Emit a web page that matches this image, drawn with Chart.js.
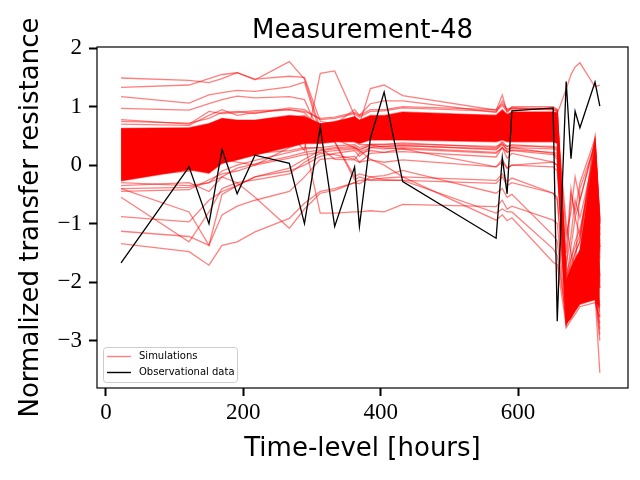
<!DOCTYPE html>
<html>
<head>
<meta charset="utf-8">
<script src="https://cdn.jsdelivr.net/npm/chart.js@4.4.1/dist/chart.umd.min.js"></script>
<style>
  html, body { margin: 0; padding: 0; background: #fff; }
</style>
</head>
<body>
<canvas id="chart" width="640" height="480"></canvas>
<script>
// time levels shared by every run
const hours = [22, 121, 150, 169, 191, 217, 267, 289, 312, 333, 362, 369, 385, 405, 432, 568, 577, 584, 591, 651, 657, 670, 677, 683, 690, 712, 719];

const observed = [-1.67, -0.03, -1.00, 0.27, -0.49, 0.17, 0.03, -1.00, 0.65, -1.05, -0.03, -1.05, 0.46, 1.25, -0.28, -1.25, 0.13, -0.49, 0.93, 0.98, -2.67, 1.43, 0.11, 0.92, 0.64, 1.42, 1.01];

// edges of the dense bundle of simulations
const bandUpper = [0.63, 0.64, 0.71, 0.80, 0.77, 0.77, 0.85, 0.83, 0.71, 0.74, 0.83, 0.77, 0.85, 0.85, 0.91, 0.85, 0.94, 0.87, 0.91, 0.91, 0.90, -1.95, -1.75, -1.60, -1.45, 0.35, -1.10];
const bandLower = [-0.27, -0.08, -0.14, 0.03, 0.09, 0.17, 0.31, 0.37, 0.37, 0.40, 0.40, 0.37, 0.43, 0.43, 0.43, 0.40, 0.43, 0.40, 0.40, 0.40, 0.37, -2.72, -2.62, -2.50, -2.38, -2.30, -2.45];

// single runs that stand out of the bundle
const simRuns = [
  [1.49, 1.45, 1.41, 1.48, 1.58, 1.47, 1.52, 1.50, 0.75, 0.70, 0.72, 0.65, 0.72, 0.70, 0.75, 0.70, 0.80, 0.72, 0.75, 0.72, 0.70, -2.30, -2.10, -1.90, -1.70, -0.20, -1.60],
  [1.33, 1.37, 1.48, 1.55, 1.58, 1.46, 1.77, 1.47, 0.62, 0.66, 0.70, 0.60, 0.70, 0.68, 0.72, 0.68, 0.78, 0.70, 0.72, 0.70, 0.68, -2.40, -2.30, -2.10, -1.90, -0.60, -1.90],
  [1.17, 1.06, 1.20, 1.24, 1.28, 1.26, 1.34, 1.42, 0.55, 0.60, 0.65, 0.55, 0.65, 0.62, 0.68, 0.62, 0.70, 0.62, 0.66, 0.62, 0.60, -2.20, -1.60, -1.30, -1.10, 0.10, -1.30],
  [0.97, 0.94, 1.05, 1.12, 1.18, 1.15, 1.17, 1.12, 0.52, 0.58, 0.62, 0.52, 0.62, 0.60, 0.65, 0.60, 0.68, 0.60, 0.64, 0.60, 0.58, -2.45, -2.25, -2.05, -1.95, -1.20, -2.10],
  [0.78, 0.70, 0.92, 0.88, 0.90, 0.93, 0.95, 0.90, 0.60, 0.64, 0.70, 0.62, 0.70, 0.70, 0.74, 0.68, 0.76, 0.68, 0.72, 0.70, 0.66, -2.15, -1.95, -1.85, -1.65, 0.05, -1.45],
  [0.40, 0.35, 0.45, 0.50, 0.48, 0.50, 0.55, 0.25, 1.57, 1.61, 0.85, 0.60, 0.75, 0.78, 0.80, 0.75, 0.85, 0.78, 0.80, 0.76, 0.74, -2.10, -1.90, -1.70, -1.50, 0.20, -1.40],
  [0.50, 0.55, 0.60, 0.70, 0.65, 0.70, 0.75, 0.80, 0.70, 0.75, 0.80, 0.70, 1.31, 1.37, 1.19, 0.94, 1.20, 0.90, 1.00, 1.00, 0.95, -2.00, -1.40, -0.90, -0.60, 0.40, -1.10],
  [0.45, 0.50, 0.60, 0.65, 0.70, 0.72, 0.80, 0.85, 0.65, 0.70, 0.95, 0.85, 1.05, 1.10, 1.10, 0.90, 1.10, 0.95, 0.98, 0.95, 0.92, -1.80, -0.50, -0.80, -0.30, 0.45, -0.90],
  [0.40, 0.45, 0.55, 0.60, 0.62, 0.65, 0.70, 0.75, 0.60, 0.65, 0.75, 0.70, 0.80, 0.82, 0.88, 0.85, 0.95, 0.85, 0.90, 0.90, 0.88, 1.30, 1.55, 1.68, 1.75, 1.34, 1.37],
  [-1.34, -1.48, -1.71, -1.37, -1.31, -1.14, -0.91, -0.65, -0.45, -0.40, -0.30, -0.32, -0.20, -0.25, -0.26, -0.31, -0.20, -0.35, -0.30, -0.48, -0.55, -2.55, -2.35, -2.25, -2.15, -1.90, -2.40],
  [-1.13, -1.22, -1.37, -0.85, -0.70, -0.60, -0.45, -0.20, 0.10, 0.12, 0.15, 0.05, 0.20, 0.22, 0.23, 0.14, 0.30, 0.12, 0.20, 0.05, 0.00, -2.45, -2.50, -2.40, -2.20, -0.30, -2.00],
  [-0.88, -0.97, -0.60, -0.45, -0.35, -0.20, -0.10, 0.00, 0.15, 0.20, 0.25, 0.15, 0.30, 0.32, 0.34, 0.26, 0.38, 0.25, 0.30, 0.20, 0.15, -2.20, -2.00, -1.80, -1.60, 0.00, -1.20],
  [-0.55, -1.31, -0.80, -0.40, -0.30, -0.25, -0.15, 0.05, 0.20, 0.18, 0.10, 0.20, 0.25, 0.22, 0.28, 0.20, 0.30, 0.22, 0.25, 0.18, 0.10, -2.50, -2.30, -2.00, -1.90, -1.60, -2.60],
  [-0.40, -0.80, -1.37, -0.50, -0.35, -0.20, -0.05, 0.10, 0.25, 0.28, 0.30, 0.25, 0.35, 0.35, 0.38, 0.30, 0.40, 0.32, 0.35, 0.30, 0.28, -2.35, -2.20, -2.10, -2.00, -2.20, -3.55],
  [-0.30, -0.35, -0.30, -0.20, -0.30, -0.55, -1.08, -0.75, -0.48, -0.43, -0.30, -0.26, -0.25, -0.22, -0.20, -0.26, -0.15, -0.28, -0.22, -0.48, -0.60, -2.40, -2.00, -1.70, -1.50, 0.10, -1.40],
  [-0.20, -0.10, 0.00, 0.10, 0.05, 0.00, 0.30, 0.40, -0.82, -0.82, -0.80, -0.80, -0.78, -0.80, -0.67, -0.71, -0.60, -0.75, -0.70, -0.94, -1.00, -2.65, -2.45, -2.35, -2.25, -2.00, -2.80],
  [-0.10, 0.00, -0.05, 0.10, 0.15, 0.20, 0.25, 0.30, 0.30, 0.10, 0.09, 0.05, 0.09, 0.05, 0.09, -0.03, 0.05, -0.05, 0.00, -0.03, -0.10, -2.30, -2.40, -2.30, -2.10, -0.40, -2.10],
  [0.05, 0.10, 0.20, 0.25, 0.30, 0.35, 0.40, 0.40, 0.40, 0.40, -0.20, -0.15, -0.20, -0.18, -0.09, -0.48, -0.40, -0.55, -0.50, -1.20, -1.30, -2.70, -2.55, -2.45, -2.35, -2.20, -3.00],
  [0.10, 0.15, 0.25, 0.30, 0.32, 0.35, 0.40, 0.42, 0.45, 0.40, -0.25, -0.20, -0.26, -0.26, -0.26, -0.82, -0.75, -0.80, -0.80, -1.43, -1.55, -2.60, -2.30, -2.20, -2.00, -1.00, -1.90],
  [0.20, 0.20, 0.30, 0.40, 0.40, 0.45, 0.50, 0.45, 0.45, 0.45, 0.30, 0.25, 0.10, 0.00, -0.20, -0.94, -0.85, -0.95, -0.90, -1.66, -1.70, -2.75, -2.50, -2.40, -2.30, -2.30, -2.50],
  [0.30, 0.30, 0.35, 0.45, 0.45, 0.50, 0.55, 0.50, 0.50, 0.50, 0.40, 0.35, 0.35, 0.30, 0.28, -0.03, 0.10, -0.05, 0.00, 0.05, 0.00, -2.10, -1.80, -1.50, -1.30, 0.30, -1.00],
  [0.10, 0.20, 0.30, 0.40, 0.42, 0.45, 0.50, 0.55, 0.50, 0.55, 0.60, 0.55, 0.60, 0.60, 0.62, 0.55, 0.65, 0.55, 0.60, 0.55, 0.50, -1.50, -0.40, -0.90, -1.20, 0.30, -1.20],
  [0.35, 0.40, 0.45, 0.55, 0.55, 0.55, 0.65, 0.65, 0.55, 0.60, 0.65, 0.60, 0.70, 0.70, 0.72, 0.65, 0.75, 0.65, 0.70, 0.68, 0.65, -1.20, -0.80, -0.20, -0.60, 0.40, -1.00],
  [0.00, 0.05, 0.15, 0.25, 0.30, 0.35, 0.42, 0.45, 0.45, 0.48, 0.50, 0.45, 0.52, 0.52, 0.55, 0.50, 0.58, 0.50, 0.55, 0.52, 0.48, -1.70, -1.20, -0.60, -0.90, 0.20, -1.50],
  [0.55, 0.55, 0.60, 0.70, 0.70, 0.72, 0.78, 0.75, 0.60, 0.65, 0.72, 0.65, 0.75, 0.75, 0.80, 0.75, 0.85, 0.75, 0.80, 0.78, 0.75, -1.00, -1.50, -1.80, -0.40, 0.35, -0.95],
  [0.70, 0.68, 0.85, 0.95, 0.85, 0.90, 0.95, 0.92, 0.80, 0.82, 0.90, 0.85, 0.95, 0.95, 1.00, 0.95, 1.05, 0.95, 0.98, 0.97, 0.95, -1.90, -1.70, -1.50, -1.30, 0.45, -1.00],
  [0.75, 0.72, 0.80, 0.90, 0.92, 0.88, 0.98, 0.95, 0.78, 0.80, 0.88, 0.82, 0.92, 0.93, 0.98, 0.92, 1.02, 0.92, 0.96, 0.95, 0.93, -1.85, -1.60, -1.40, -1.20, 0.48, -0.95],
  [-0.40, -0.38, -0.30, -0.10, 0.00, 0.08, 0.22, 0.28, 0.30, 0.33, 0.35, 0.30, 0.36, 0.36, 0.36, 0.32, 0.36, 0.32, 0.33, 0.32, 0.30, -2.78, -2.65, -2.55, -2.42, -2.35, -2.60],
  [-0.35, -0.30, -0.45, -0.20, -0.05, 0.02, 0.15, 0.22, 0.26, 0.30, 0.32, 0.27, 0.33, 0.32, 0.33, 0.28, 0.34, 0.28, 0.30, 0.28, 0.25, -2.70, -2.55, -2.45, -2.30, -2.28, -2.70],
  [-0.45, -0.42, -0.25, -0.15, -0.10, 0.00, 0.12, 0.18, 0.22, 0.25, 0.28, 0.22, 0.30, 0.28, 0.30, 0.22, 0.30, 0.22, 0.26, 0.22, 0.20, -2.60, -2.45, -2.35, -2.25, -2.10, -2.90]
];

const xTicks = [0, 200, 400, 600];
const yTicks = [-3, -2, -1, 0, 1, 2];

const titleText = 'Measurement-48';
const xLabel = 'Time-level [hours]';
const yLabel = 'Normalized transfer resistance';
const legendLabels = ['Simulations', 'Observational data'];

const simColor = 'rgba(255,0,0,0.5)';
const obsColor = '#000000';

const pts = vals => vals.map((v, i) => ({ x: hours[i], y: v }));
const fmt = v => v < 0 ? '\u2212' + Math.abs(v) : String(v);

const frame = {
  id: 'frame',
  afterDraw(chart) {
    const { ctx, chartArea: a } = chart;
    ctx.save();
    ctx.strokeStyle = '#000';
    ctx.lineWidth = 1.2;
    ctx.strokeRect(a.left, a.top, a.right - a.left, a.bottom - a.top);

    ctx.fillStyle = '#000';
    ctx.textAlign = 'center';
    ctx.textBaseline = 'alphabetic';
    ctx.font = '26px "DejaVu Sans"';
    const cx = (a.left + a.right) / 2;
    ctx.fillText(titleText, cx, 38);
    ctx.fillText(xLabel, cx, 456);
    ctx.save();
    ctx.translate(38, (a.top + a.bottom) / 2);
    ctx.rotate(-Math.PI / 2);
    ctx.fillText(yLabel, 0, 0);
    ctx.restore();

    // legend box, lower left inside the axes
    const lx = a.left + 6, ly = a.bottom - 41;
    ctx.beginPath();
    ctx.roundRect(lx + 0.5, ly + 0.5, 134, 35, 3);
    ctx.fillStyle = 'rgba(255,255,255,0.8)';
    ctx.fill();
    ctx.strokeStyle = '#cccccc';
    ctx.lineWidth = 1;
    ctx.stroke();
    const colors = [simColor, obsColor];
    ctx.font = '10px "DejaVu Sans"';
    ctx.textAlign = 'left';
    ctx.textBaseline = 'middle';
    legendLabels.forEach((txt, i) => {
      const y = ly + 9.5 + i * 16;
      ctx.beginPath();
      ctx.moveTo(lx + 4, y);
      ctx.lineTo(lx + 28, y);
      ctx.strokeStyle = colors[i];
      ctx.lineWidth = 1.4;
      ctx.stroke();
      ctx.fillStyle = '#000';
      ctx.fillText(txt, lx + 36, y);
    });
    ctx.restore();
  }
};

const datasets = [
  { label: 'obs', data: pts(observed), borderColor: obsColor, borderWidth: 1.3, order: 0, fill: false },
  { label: 'bandLower', data: pts(bandLower), borderColor: simColor, borderWidth: 1.3, order: 2, fill: false },
  { label: 'bandUpper', data: pts(bandUpper), borderColor: simColor, borderWidth: 1.3, order: 2,
    fill: { target: 1 }, backgroundColor: '#ff0000' }
];
simRuns.forEach((run, i) => {
  datasets.push({ label: 'sim' + i, data: pts(run), borderColor: simColor, borderWidth: 1.3, order: 1, fill: false });
});

new Chart(document.getElementById('chart'), {
  type: 'line',
  data: { datasets },
  options: {
    responsive: false,
    animation: false,
    devicePixelRatio: 1,
    layout: { padding: { top: 47, right: 12, left: 0, bottom: 0 } },
    plugins: { legend: { display: false }, tooltip: { enabled: false }, title: { display: false } },
    elements: { point: { radius: 0 }, line: { tension: 0 } },
    scales: {
      x: {
        type: 'linear', min: -13, max: 760,
        afterFit: s => { s.height = 92; },
        afterBuildTicks: s => { s.ticks = xTicks.map(v => ({ value: v })); },
        grid: { drawOnChartArea: false, tickLength: 8, tickWidth: 2, tickColor: '#000' },
        border: { display: false },
        ticks: { color: '#000', font: { family: 'Liberation Serif', size: 23 }, padding: 3, maxRotation: 0, callback: v => fmt(v) }
      },
      y: {
        type: 'linear', min: -3.81, max: 2.02,
        afterFit: s => { s.width = 97; },
        afterBuildTicks: s => { s.ticks = yTicks.map(v => ({ value: v })); },
        grid: { drawOnChartArea: false, tickLength: 8, tickWidth: 2, tickColor: '#000' },
        border: { display: false },
        ticks: { color: '#000', font: { family: 'Liberation Serif', size: 23 }, padding: 7, callback: v => fmt(v) }
      }
    }
  },
  plugins: [frame]
});
</script>
</body>
</html>
